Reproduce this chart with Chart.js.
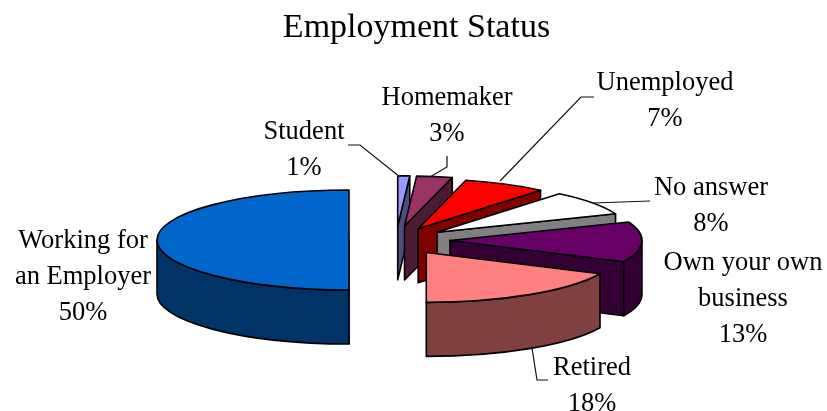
<!DOCTYPE html>
<html>
<head>
<meta charset="utf-8">
<title>Employment Status</title>
<style>
  html, body { margin: 0; padding: 0; background: #fff; }
  canvas { display: block; }
</style>
<script src="https://cdn.jsdelivr.net/npm/chart.js@4"></script>
</head>
<body>
<canvas id="chart" width="827" height="411"></canvas>
<script>
const categories = ['Student', 'Homemaker', 'Unemployed', 'No answer', 'Own your own business', 'Retired', 'Working for an Employer'];
const shares = [1, 3, 7, 8, 13, 18, 50];
const sliceColors = ['#9999FF', '#993366', '#FF0000', '#FFFFFF', '#660066', '#FF8080', '#0066CC'];
const wallColors = ['#4D4D80', '#4D1A33', '#800000', '#808080', '#330033', '#804040', '#003366'];
const explode = [218, 218, 195, 203, 216, 226, 188];

const labelFont = '26.5px "Liberation Serif"';
const lineGap = 36;
// wrapped name, centre x, y of the first line
const labelSpots = [
  { lines: ['Student'], x: 304, y: 132 },
  { lines: ['Homemaker'], x: 447, y: 98 },
  { lines: ['Unemployed'], x: 665, y: 83 },
  { lines: ['No answer'], x: 711, y: 188 },
  { lines: ['Own your own', 'business'], x: 743, y: 263 },
  { lines: ['Retired'], x: 592, y: 368 },
  { lines: ['Working for', 'an Employer'], x: 83, y: 241 }
];
const leaders = [
  [[348, 145], [360, 145], [400, 177]],
  [[447, 156], [447, 167], [430, 177]],
  [[594, 97], [581, 97], [500, 181]],
  [[650, 201], [593, 203]],
  [[548, 380], [537, 380], [532, 348]]
];

// where the pie centre sits and how flat it is
const pie = { x: 396, y: 240, ry: 50, depth: 54 };

const pie3d = {
  id: 'pie3d',
  beforeDatasetsDraw(chart) {
    const ctx = chart.ctx;
    const arcs = chart.getDatasetMeta(0).data;
    ctx.save();
    ctx.lineWidth = 1.6;
    ctx.lineJoin = 'round';
    ctx.strokeStyle = '#000';
    arcs.forEach((arc, i) => drawSlice(ctx, arc, i));
    ctx.restore();
    return false;
  },
  afterDraw(chart) {
    const ctx = chart.ctx;
    ctx.save();
    ctx.strokeStyle = '#111';
    ctx.lineWidth = 1.2;
    leaders.forEach(pts => {
      ctx.beginPath();
      pts.forEach((p, i) => (i ? ctx.lineTo(p[0], p[1]) : ctx.moveTo(p[0], p[1])));
      ctx.stroke();
    });
    ctx.fillStyle = '#000';
    ctx.font = labelFont;
    ctx.textAlign = 'center';
    ctx.textBaseline = 'middle';
    labelSpots.forEach((spot, i) => {
      const rows = spot.lines.concat(shares[i] + '%');
      rows.forEach((row, r) => ctx.fillText(row, spot.x, spot.y + r * lineGap));
    });
    ctx.restore();
  }
};

function drawSlice(ctx, arc, i) {
  const a = arc.startAngle;
  const b = arc.endAngle;
  const rx = arc.outerRadius;
  const ry = pie.ry;
  const mid = (a + b) / 2;
  const shift = arc.options.offset / 4;
  const cx = pie.x + Math.cos(mid) * shift;
  const cy = pie.y + Math.sin(mid) * shift * ry / rx;
  const d = pie.depth;

  const sideWall = ang => {
    const ex = cx + Math.cos(ang) * rx;
    const ey = cy + Math.sin(ang) * ry;
    ctx.beginPath();
    ctx.moveTo(cx, cy);
    ctx.lineTo(ex, ey);
    ctx.lineTo(ex, ey + d);
    ctx.lineTo(cx, cy + d);
    ctx.closePath();
    ctx.fillStyle = wallColors[i];
    ctx.fill();
    ctx.stroke();
  };
  if (Math.cos(a) < 0) sideWall(a);
  if (Math.cos(b) > 0) sideWall(b);

  // rim, only the part facing us
  const lo = Math.max(a, 0);
  const hi = Math.min(b, Math.PI);
  if (lo < hi) {
    ctx.beginPath();
    ctx.ellipse(cx, cy, rx, ry, 0, lo, hi);
    ctx.ellipse(cx, cy + d, rx, ry, 0, hi, lo, true);
    ctx.closePath();
    ctx.fillStyle = wallColors[i];
    ctx.fill();
    ctx.stroke();
  }

  ctx.beginPath();
  ctx.moveTo(cx, cy);
  ctx.ellipse(cx, cy, rx, ry, 0, a, b);
  ctx.closePath();
  ctx.fillStyle = arc.options.backgroundColor;
  ctx.fill();
  ctx.stroke();
}

new Chart(document.getElementById('chart'), {
  type: 'pie',
  data: {
    labels: categories,
    datasets: [{
      data: shares,
      backgroundColor: sliceColors,
      offset: explode,
      borderWidth: 0
    }]
  },
  options: {
    responsive: false,
    animation: false,
    radius: 192,
    layout: { padding: { left: 6 } },
    plugins: {
      legend: { display: false },
      tooltip: { enabled: false },
      title: {
        display: true,
        text: 'Employment Status',
        color: '#000',
        font: { family: '"Liberation Serif"', size: 34, weight: 'normal' },
        padding: { top: 8, bottom: 8 }
      }
    }
  },
  plugins: [pie3d]
});
</script>
</body>
</html>
